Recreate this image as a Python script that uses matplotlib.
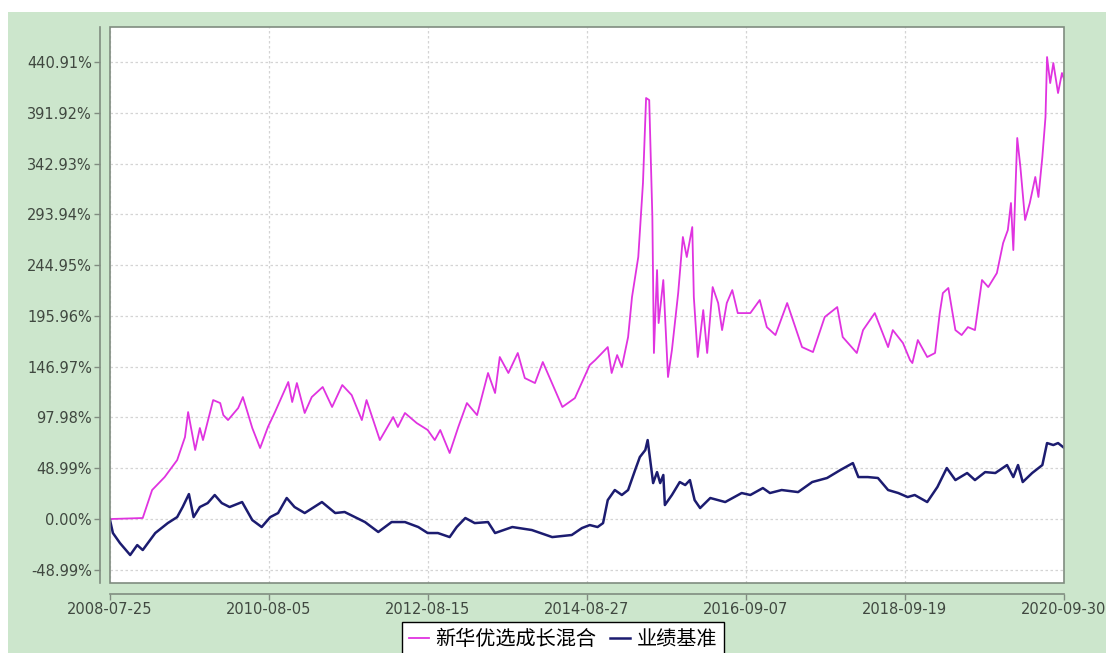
import numpy as np
import pandas as pd
import matplotlib
matplotlib.use('Agg')
import matplotlib.pyplot as plt
from matplotlib.patches import Rectangle

plt.rcParams['font.family'] = ['DejaVu Sans', 'Noto Sans CJK SC']

# time in decimal years, values in %
fund_t = [2008.56, 2008.98, 2009.10, 2009.26, 2009.42, 2009.52, 2009.56, 2009.65, 2009.71, 2009.75,
          2009.88, 2009.97, 2010.01, 2010.07, 2010.20, 2010.26, 2010.38, 2010.48, 2010.58, 2010.67,
          2010.84, 2010.89, 2010.95, 2011.05, 2011.14, 2011.28, 2011.40, 2011.53, 2011.65, 2011.78,
          2011.84, 2012.01, 2012.18, 2012.24, 2012.33, 2012.48, 2012.62, 2012.71, 2012.78, 2012.90,
          2013.01, 2013.12, 2013.25, 2013.39, 2013.48, 2013.54, 2013.65, 2013.77, 2013.86, 2013.99,
          2014.09, 2014.34, 2014.50, 2014.69, 2014.76, 2014.92, 2014.97, 2015.04, 2015.10, 2015.18,
          2015.23, 2015.31, 2015.37, 2015.41, 2015.45, 2015.49, 2015.51, 2015.55, 2015.57, 2015.63,
          2015.69, 2015.74, 2015.82, 2015.88, 2015.93, 2016.00, 2016.02, 2016.07, 2016.14, 2016.19,
          2016.26, 2016.33, 2016.38, 2016.44, 2016.51, 2016.58, 2016.74, 2016.86, 2016.95, 2017.06,
          2017.21, 2017.40, 2017.54, 2017.69, 2017.85, 2017.92, 2018.10, 2018.18, 2018.33, 2018.50,
          2018.56, 2018.69, 2018.78, 2018.81, 2018.88, 2019.00, 2019.10, 2019.16, 2019.20, 2019.27,
          2019.36, 2019.44, 2019.52, 2019.61, 2019.70, 2019.78, 2019.89, 2019.97, 2020.03, 2020.07,
          2020.10, 2020.15, 2020.19, 2020.25, 2020.31, 2020.38, 2020.42, 2020.47, 2020.51, 2020.53,
          2020.57, 2020.61, 2020.67, 2020.72, 2020.75]
fund_v = [0.0, 1.0, 28.0, 40.5, 56.9, 79.1, 103.2, 66.6, 87.8, 76.2,
          114.8, 111.9, 100.3, 95.5, 107.1, 117.7, 87.8, 68.5, 88.8, 103.2,
          132.2, 112.9, 131.2, 102.3, 117.7, 127.4, 108.1, 129.3, 119.6, 95.5,
          114.8, 76.2, 98.4, 88.8, 102.3, 92.6, 85.9, 76.2, 85.9, 63.7,
          88.8, 111.9, 100.3, 140.9, 121.6, 156.3, 140.9, 160.2, 136.0, 131.2,
          151.5, 108.1, 116.7, 148.6, 153.4, 165.9, 140.9, 158.2, 146.6, 175.6,
          214.2, 252.8, 324.2, 406.2, 404.2, 291.4, 160.2, 240.2, 189.1, 230.6,
          137.0, 163.0, 218.0, 272.1, 252.8, 281.7, 214.2, 156.3, 201.6, 160.2,
          223.8, 208.4, 182.3, 208.4, 220.9, 198.7, 198.7, 211.3, 185.2, 177.5,
          208.4, 165.9, 161.1, 194.9, 204.5, 175.6, 160.2, 182.3, 198.7, 165.9,
          182.3, 169.8, 153.4, 150.5, 172.7, 156.3, 160.2, 198.7, 218.0, 222.9,
          182.3, 177.5, 185.2, 182.3, 230.6, 223.8, 237.3, 266.3, 278.8, 304.9,
          259.5, 367.6, 339.6, 288.5, 304.9, 330.0, 310.7, 349.3, 387.8, 445.7,
          420.6, 439.9, 411.0, 430.3, 423.5]

bench_t = [2008.56, 2008.60, 2008.69, 2008.82, 2008.91, 2008.98, 2009.14, 2009.30, 2009.42, 2009.49,
           2009.57, 2009.63, 2009.71, 2009.81, 2009.90, 2009.99, 2010.09, 2010.25, 2010.38, 2010.50,
           2010.61, 2010.71, 2010.82, 2010.92, 2011.05, 2011.27, 2011.44, 2011.56, 2011.82, 2011.99,
           2012.16, 2012.33, 2012.50, 2012.62, 2012.75, 2012.90, 2012.99, 2013.10, 2013.22, 2013.39,
           2013.48, 2013.70, 2013.95, 2014.21, 2014.46, 2014.59, 2014.69, 2014.79, 2014.86, 2014.92,
           2015.01, 2015.10, 2015.18, 2015.27, 2015.33, 2015.40, 2015.43, 2015.50, 2015.55, 2015.59,
           2015.63, 2015.65, 2015.74, 2015.84, 2015.91, 2015.97, 2016.03, 2016.10, 2016.23, 2016.42,
           2016.63, 2016.74, 2016.90, 2016.99, 2017.14, 2017.35, 2017.53, 2017.72, 2017.89, 2018.05,
           2018.12, 2018.24, 2018.37, 2018.50, 2018.63, 2018.75, 2018.84, 2019.00, 2019.13, 2019.25,
           2019.36, 2019.51, 2019.61, 2019.74, 2019.87, 2020.02, 2020.10, 2020.16, 2020.22, 2020.34,
           2020.47, 2020.53, 2020.61, 2020.67, 2020.75]
bench_v = [0.0, -13.5, -23.2, -34.7, -25.1, -29.9, -13.5, -3.9, 1.9, 11.6,
           24.1, 1.9, 11.6, 15.4, 23.2, 15.4, 11.6, 16.4, -1.0, -7.7,
           1.9, 5.8, 20.3, 11.6, 5.8, 16.4, 5.8, 6.8, -2.9, -12.5,
           -2.9, -2.9, -7.7, -13.5, -13.5, -17.4, -7.7, 1.0, -3.9, -2.9,
           -13.5, -7.7, -10.6, -17.4, -15.4, -8.7, -5.8, -7.7, -3.9, 18.3,
           28.0, 23.2, 28.0, 47.3, 59.8, 66.6, 76.2, 34.7, 45.3, 34.7,
           42.5, 13.5, 23.2, 35.7, 32.8, 37.6, 18.3, 10.6, 20.3, 16.4,
           25.1, 23.2, 29.9, 25.1, 28.0, 26.0, 35.7, 39.6, 47.3, 54.0,
           40.5, 40.5, 39.6, 28.0, 25.1, 21.2, 23.2, 16.4, 30.9, 49.2,
           37.6, 44.4, 37.6, 45.3, 44.4, 52.1, 40.5, 52.1, 35.7, 44.4,
           52.1, 73.3, 71.4, 73.3, 68.5]

x_ticks = ['2008-07-25', '2010-08-05', '2012-08-15', '2014-08-27', '2016-09-07', '2018-09-19', '2020-09-30']
y_ticks = [-48.99, 0.00, 48.99, 97.98, 146.97, 195.96, 244.95, 293.94, 342.93, 391.92, 440.91]
names = ['新华优选成长混合', '业绩基准']


def to_dates(years):
    out = []
    for y in years:
        yr = int(y)
        start = pd.Timestamp(yr, 1, 1)
        days = (pd.Timestamp(yr + 1, 1, 1) - start).days
        out.append(start + pd.Timedelta(days=(y - yr) * days))
    return out


green = '#cce6cc'
fig = plt.figure(figsize=(11.06, 6.53), dpi=100)
fig.patches.append(Rectangle((8 / 1106, 0), 1, 1 - 12 / 653, transform=fig.transFigure,
                             facecolor=green, edgecolor='none', zorder=-10))

ax = fig.add_axes([110 / 1106, 1 - 583 / 653, 954 / 1106, 556 / 653])
ax.set_facecolor('white')

ax.plot(to_dates(fund_t), fund_v, color='#e033e0', lw=1.3, label=names[0])
ax.plot(to_dates(bench_t), bench_v, color='#1c1c70', lw=1.8, label=names[1])

tick_dates = pd.to_datetime(x_ticks)
ax.set_xlim(tick_dates[0], tick_dates[-1])
ax.set_ylim(-61.7, 474.7)
ax.set_xticks(tick_dates)
ax.set_xticklabels(x_ticks)
ax.set_yticks(y_ticks)
ax.set_yticklabels(['%.2f%%' % v for v in y_ticks])

ax.grid(True, color='#d4d4d4', linestyle=(0, (2, 2)), linewidth=0.9)
ax.set_axisbelow(True)

spine_col = '#808c80'
for s in ['top', 'right']:
    ax.spines[s].set_visible(False)
ax.spines['left'].set_position(('outward', 7))
ax.spines['bottom'].set_position(('outward', 8))
for s in ['left', 'bottom']:
    ax.spines[s].set_color(spine_col)
    ax.spines[s].set_linewidth(1.2)
ax.add_patch(Rectangle((0, 0), 1, 1, transform=ax.transAxes, fill=False,
                       edgecolor=spine_col, linewidth=1.2, clip_on=False, zorder=5))
ax.tick_params(colors=spine_col, labelcolor='#404840', labelsize=10.5, length=4, width=1, pad=2)

fig.legend(loc='upper center', bbox_to_anchor=(563 / 1106, 1 - 622 / 653), ncol=2,
           frameon=True, fancybox=False, edgecolor='black', framealpha=1,
           prop={'family': ['Noto Sans CJK SC', 'DejaVu Sans'], 'size': 14.5},
           handlelength=1.0, handletextpad=0.3, columnspacing=0.7, borderpad=0.35,
           borderaxespad=0.0)

fig.savefig('out.png', dpi=100)
